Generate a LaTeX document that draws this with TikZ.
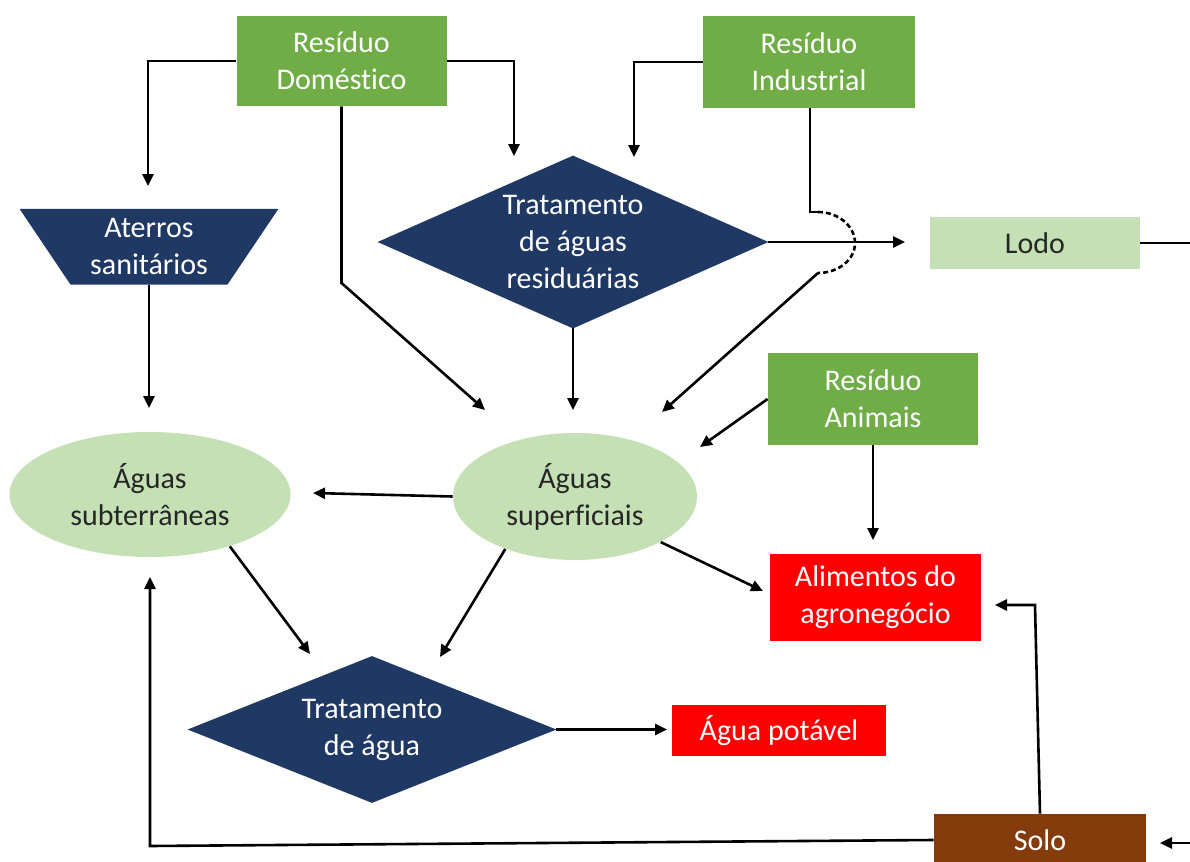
\documentclass[tikz,border=0pt]{standalone}
\usepackage{fontspec}
\setmainfont{Carlito}[Ligatures=NoCommon]
\usetikzlibrary{arrows.meta,shapes.geometric,backgrounds}

\definecolor{leafgreen}{HTML}{70AD47}
\definecolor{palegreen}{HTML}{C5E0B4}
\definecolor{navyblue}{HTML}{203864}
\definecolor{alertred}{HTML}{FF0000}
\definecolor{soilbrown}{HTML}{843C0C}

\begin{document}
\begin{tikzpicture}[x=0.5pt,y=-0.5pt,
  every node/.style={font=\fontsize{15}{18.5}\selectfont, align=center, inner sep=0pt},
  source/.style={rectangle, fill=leafgreen, text=white},
  product/.style={rectangle, fill=alertred, text=white},
  water/.style={ellipse, fill=palegreen, text=black!85},
  process/.style={rectangle, text=white},
  ln/.style={line width=1.3pt},
  arr/.style={line width=1.3pt, -{Triangle[length=6pt,width=5.5pt]}},
  hop/.style={line width=1.3pt, dash pattern=on 2.5pt off 1.5pt}]

\useasboundingbox (0,0) rectangle (1190,862);
\clip (0,0) rectangle (1190,862);

% waste sources
\node[source, minimum width=105pt, minimum height=45pt] (dom) at (341.5,61) {Resíduo\\Doméstico};
\node[source, minimum width=106pt, minimum height=46pt] (ind) at (809,62) {Resíduo\\Industrial};
\node[source, minimum width=105pt, minimum height=46pt] (anim) at (873,399) {Resíduo\\Animais};

% processes (shapes filled on the background layer)
\node[process, minimum width=129pt, minimum height=37.5pt] (ater) at (149,246.8) {Aterros\\sanitários};
\node[process, minimum width=195pt, minimum height=86pt] (res) at (573,242) {Tratamento\\de águas\\residuárias};
\node[process, minimum width=184pt, minimum height=73pt] (agua) at (372,729.5) {Tratamento\\de água};

\begin{pgfonlayer}{background}
  \fill[navyblue] (ater.north west) -- (ater.north east)
     -- ([xshift=-25.5pt]ater.south east) -- ([xshift=25.5pt]ater.south west) -- cycle;
  \fill[navyblue] (res.north) -- (res.east) -- (res.south) -- (res.west) -- cycle;
  \fill[navyblue] (agua.north) -- (agua.east) -- (agua.south) -- (agua.west) -- cycle;
\end{pgfonlayer}

% water bodies
\node[water, minimum width=140.5pt, minimum height=62.5pt] (sub) at (150,494.5) {Águas\\subterrâneas};
\node[water, minimum width=122pt, minimum height=63.5pt] (sup) at (575,496.5) {Águas\\superficiais};

% products
\node[rectangle, fill=palegreen, text=black!85, minimum width=105pt, minimum height=26pt] (lodo) at (1035,243) {Lodo};
\node[product, minimum width=105.5pt, minimum height=43.5pt] (alim) at (875.5,597.5) {Alimentos do\\agronegócio};
\node[product, minimum width=107pt, minimum height=25.5pt] (pot) at (779,730.5) {Água potável};
\node[rectangle, fill=soilbrown, text=white, minimum width=106pt, minimum height=26pt] (solo) at (1040,840) {Solo};

% connector end points
\coordinate (aterIn) at (148,186);
\coordinate (resInA) at (514,156);
\coordinate (resInB) at (634,157);
\coordinate (domBend) at (341.5,283);
\coordinate (supInA) at (485,410);
\coordinate (supInB) at (662,412);
\coordinate (supInC) at (700,447);
\coordinate (indBend) at (810,212);
\coordinate (hopIn) at (818,212);
\coordinate (hopOut) at (818,273);
\coordinate (lodoIn) at (905,242);
\coordinate (lodoOut) at (1190,243);
\coordinate (subIn) at (149,408);
\coordinate (subInB) at (313,493);
\coordinate (aguaInA) at (310,654);
\coordinate (aguaInB) at (440,657);
\coordinate (alimIn) at (763,591);
\coordinate (alimInB) at (873,540);
\coordinate (alimInC) at (995,605);
\coordinate (potIn) at (667,729.5);
\coordinate (soloBend) at (150,846);
\coordinate (subUp) at (150,577);
\coordinate (soloUp) at (1035,605);
\coordinate (edgeIn) at (1190,843);
\coordinate (soloIn) at (1160,843);

% domestic waste
\draw[arr] (dom.west) -| (aterIn);
\draw[arr] (dom.east) -| (resInA);
\draw[arr] (dom.south) -- (domBend) -- (supInA);

% industrial waste, hopping over the sludge line
\draw[arr] (ind.west) -| (resInB);
\draw[ln] (ind.south -| indBend) -- (indBend) -- (hopIn);
\draw[hop] (hopIn) .. controls (838,212) and (855,226) .. (855,243)
                   .. controls (855,260) and (838,273) .. (hopOut);
\draw[arr] (hopOut) -- (supInB);

% wastewater treatment
\draw[arr] (res.east) -- (lodoIn);
\draw[ln] (lodo.east) -- (lodoOut);
\draw[arr] (res.south) -- (res.south |- supInA);

% animal waste
\draw[arr] (anim.west) -- (supInC);
\draw[arr] (anim.south) -- (alimInB);

% landfills and water bodies
\draw[arr] (ater.south) -- (subIn);
\draw[arr] (sup.west) -- (subInB);
\draw[arr] (sup.217) -- (aguaInB);
\draw[arr] (sup.-28.5) -- (alimIn);
\draw[arr] (sub.-33) -- (aguaInA);
\draw[arr] (agua.east) -- (potIn);

% soil
\draw[arr] (solo.west) -- (soloBend) -- (subUp);
\draw[arr] (solo.north) -- (soloUp) -- (alimInC);
\draw[arr] (edgeIn) -- (soloIn);

\end{tikzpicture}
\end{document}
